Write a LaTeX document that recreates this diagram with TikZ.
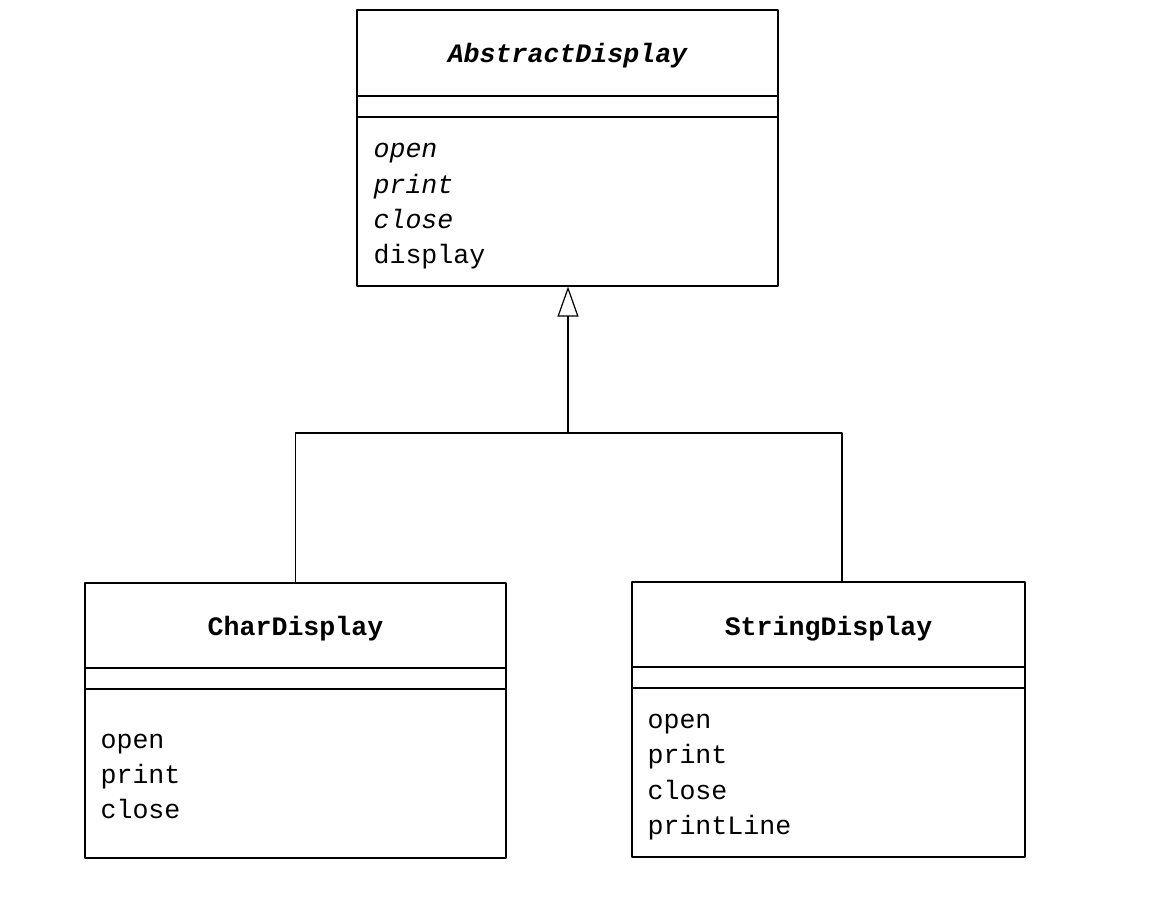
\documentclass[tikz,border=0pt]{standalone}
\usepackage{fontspec}
\setmonofont{Liberation Mono}
\usetikzlibrary{arrows.meta,fit}
\begin{document}
\begin{tikzpicture}[x=0.5pt, y=-0.5pt, font=\ttfamily\fontsize{13.3}{16}\selectfont, line join=round, line width=0.6pt,
		box/.style={draw, inner sep=0pt}, txt/.style={inner sep=0pt}, >={Triangle[open, length=15pt, width=10.5pt]}]
	\useasboundingbox (0,0) rectangle (1176,902);
	% classes
	\node[box, fit={(357,10) (778,286)}] (abs) {};
	\node[box, fit={(85,583) (506,858)}] (char) {};
	\node[box, fit={(632,582) (1025,857)}] (str) {};
	\foreach \c/\a/\b in {abs/96/117, char/668/689, str/667/688}{
		\draw (\c.west |- 0,\a) -- (\c.east |- 0,\a);
		\draw (\c.west |- 0,\b) -- (\c.east |- 0,\b);}
	\node[txt, anchor=base] (absname) at (abs.center |- 0,62) {\bfseries\itshape AbstractDisplay};
	\node[txt, anchor=base] (charname) at (char.center |- 0,635) {\bfseries CharDisplay};
	\node[txt, anchor=base] (strname) at (str.center |- 0,635) {\bfseries StringDisplay};
	% methods
	\foreach \m/\y/\s in {open/157/\itshape, print/193/\itshape, close/228/\itshape, display/263/}{\node[txt, anchor=base west] (abs-\m) at (373,\y) {\s\m};}
	\foreach \m/\y in {open/748, print/783, close/818}{\node[txt, anchor=base west] (char-\m) at (100,\y) {\m};}
	\foreach \m/\y in {open/728, print/763, close/799, printLine/834}{\node[txt, anchor=base west] (str-\m) at (647,\y) {\m};}
	% inheritance
	\coordinate (fork) at (568,433);
	\coordinate (strtop) at (str.north -| 842,0);
	\draw (char.north) |- (fork) -| (strtop);
	\draw[->] (fork) -- (fork |- abs.south);
\end{tikzpicture}
\end{document}
